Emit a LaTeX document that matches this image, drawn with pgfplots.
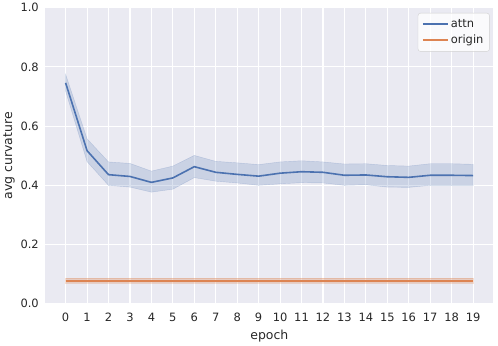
\documentclass[border=0pt]{standalone}
\usepackage{pgfplots}
\pgfplotsset{compat=1.18}
\usepackage{fontspec}
\setmainfont{DejaVu Sans}
\definecolor{sbblue}{HTML}{4C72B0}
\definecolor{sborange}{HTML}{DD8452}
\definecolor{sbbg}{HTML}{EAEAF2}
\definecolor{sbtext}{HTML}{262626}

\begin{document}
\begin{tikzpicture}
\begin{axis}[
    scale only axis, width=448bp, height=296bp,
    xmin=-0.95, xmax=19.95, ymin=0, ymax=1,
    xtick={0,...,19}, ytick={0,0.2,0.4,0.6,0.8,1.0},
    /pgf/number format/assume math mode=true,
    axis background/.style={fill=sbbg},
    axis line style={draw=none},
    major tick length=0pt,
    grid=major, grid style={white, line width=1.1bp},
    tick label style={font=\fontsize{11.5}{13}\selectfont, text=sbtext},
    xticklabel style={yshift=-6bp},
    yticklabel style={xshift=-3bp, /pgf/number format/.cd, fixed, fixed zerofill, precision=1},
    label style={font=\fontsize{12.5}{14}\selectfont, text=sbtext},
    xlabel={epoch}, ylabel={avg curvature},
    xlabel style={yshift=-1bp},
    ylabel style={yshift=-1bp},
    legend style={at={(0.9915,0.982)}, anchor=north east, rounded corners=2.5bp,
      draw=black!18, fill=white, fill opacity=0.8, text opacity=1, draw opacity=1,
      font=\fontsize{11.5}{13}\selectfont, text=sbtext,
      inner xsep=4bp, inner ysep=4bp, row sep=2.5bp},
    legend cell align=left,
    legend image code/.code={\draw[#1, draw opacity=1] (0bp,0bp) -- (25bp,0bp);},
]
  % confidence bands
  \addplot[fill=sbblue, draw=sbblue, draw opacity=0.25, fill opacity=0.2, forget plot] coordinates {
    (0,0.775) (1,0.557) (2,0.479) (3,0.474) (4,0.448) (5,0.465) (6,0.501) (7,0.481)
    (8,0.476) (9,0.470) (10,0.479) (11,0.483) (12,0.479) (13,0.472) (14,0.473)
    (15,0.467) (16,0.465) (17,0.473) (18,0.473) (19,0.471)
    (19,0.400) (18,0.400) (17,0.400) (16,0.393) (15,0.394) (14,0.402) (13,0.400)
    (12,0.408) (11,0.409) (10,0.405) (9,0.400) (8,0.408) (7,0.414) (6,0.426)
    (5,0.387) (4,0.377) (3,0.394) (2,0.400) (1,0.480) (0,0.718)
  } -- cycle;
  \addplot[fill=sborange, draw=sborange, draw opacity=0.25, fill opacity=0.3, forget plot] coordinates {
    (0,0.087) (19,0.087) (19,0.069) (0,0.069)
  } -- cycle;
  % means
  \addplot[draw=sbblue, line width=1.6bp, forget plot] coordinates {
    (0,0.746) (1,0.517) (2,0.436) (3,0.430) (4,0.410) (5,0.425) (6,0.463) (7,0.444)
    (8,0.437) (9,0.431) (10,0.441) (11,0.446) (12,0.444) (13,0.434) (14,0.435)
    (15,0.429) (16,0.427) (17,0.434) (18,0.434) (19,0.433)
  };
  \addplot[draw=sborange, line width=1.8bp, forget plot] coordinates {
    (0,0.078) (1,0.078) (2,0.078) (3,0.078) (4,0.078) (5,0.078) (6,0.078) (7,0.078)
    (8,0.078) (9,0.078) (10,0.078) (11,0.078) (12,0.078) (13,0.078) (14,0.078)
    (15,0.078) (16,0.078) (17,0.078) (18,0.078) (19,0.078)
  };
  \addlegendimage{draw=sbblue, line width=1.8bp}
  \addlegendentry{attn}
  \addlegendimage{draw=sborange, line width=1.8bp}
  \addlegendentry{origin}
\end{axis}
\path (current bounding box.north east) ++(4bp,0bp);
\end{tikzpicture}
\end{document}
